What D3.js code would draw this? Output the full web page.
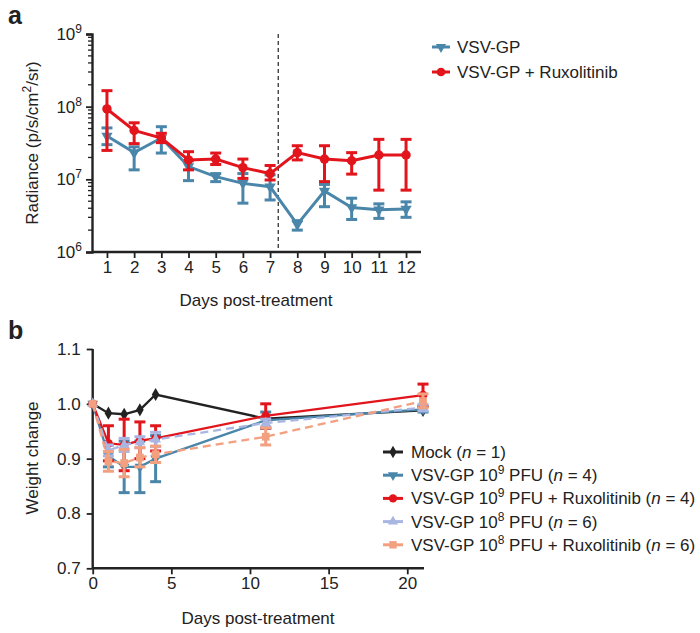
<!DOCTYPE html>
<html><head><meta charset="utf-8">
<script src="https://cdn.jsdelivr.net/npm/d3@7"></script>
<style>
body{margin:0;background:#fff;}
svg text{font-family:"Liberation Sans",Arial,Helvetica,sans-serif;fill:#222;}
</style></head>
<body><svg id="c" width="700" height="633"></svg>
<script>
// ---------- Panel a data ----------
const daysA = [1,2,3,4,5,6,7,8,9,10,11,12];
const vsvMean = [3.95e7,2.33e7,3.7e7,1.5e7,1.09e7,8.8e6,7.9e6,2.4e6,6.9e6,4.1e6,3.8e6,3.9e6];
const vsvHi   = [5.1e7,2.8e7,5.3e7,1.8e7,1.2e7,1.2e7,1.15e7,2.7e6,8.5e6,5.5e6,4.6e6,4.9e6];
const vsvLo   = [3.0e7,1.35e7,2.3e7,9.6e6,9.3e6,4.7e6,5.2e6,2.0e6,4.2e6,2.8e6,2.9e6,3.0e6];
const ruxMean = [9.3e7,4.7e7,3.7e7,1.85e7,1.9e7,1.45e7,1.2e7,2.33e7,1.9e7,1.8e7,2.16e7,2.16e7];
const ruxHi   = [1.66e8,6.0e7,4.3e7,2.4e7,2.3e7,1.9e7,1.55e7,2.9e7,2.9e7,2.33e7,3.55e7,3.55e7];
const ruxLo   = [2.5e7,3.1e7,3.2e7,1.35e7,1.6e7,1.03e7,9.8e6,1.85e7,9.3e6,1.18e7,7.1e6,7.1e6];
const logTicks = [1e6,1e7,1e8,1e9];
const treatDay = 7.3;

// ---------- Panel b data ----------
const daysB = [0,1,2,3,4,11,21];
const mockMean = [1.0,0.983,0.981,0.989,1.017,0.973,0.988];
const v9Mean = [1.0,0.905,0.885,0.885,0.900,0.970,0.990];
const v9Hi   = [1.0,0.925,0.932,0.932,0.942,0.985,0.995];
const v9Lo   = [1.0,0.885,0.838,0.838,0.858,0.955,0.985];
const r9Mean = [1.0,0.928,0.925,0.933,0.937,0.978,1.016];
const r9Hi   = [1.0,0.960,0.972,0.967,0.960,1.000,1.036];
const r9Lo   = [1.0,0.896,0.878,0.900,0.914,0.956,0.996];
const v8Mean = [1.0,0.915,0.925,0.930,0.935,0.965,0.993];
const v8Hi   = [1.0,0.925,0.937,0.940,0.948,0.972,0.999];
const v8Lo   = [1.0,0.905,0.913,0.920,0.922,0.958,0.987];
const r8Mean = [1.0,0.895,0.892,0.902,0.908,0.940,1.005];
const r8Hi   = [1.0,0.913,0.917,0.920,0.923,0.956,1.018];
const r8Lo   = [1.0,0.877,0.867,0.885,0.893,0.925,0.993];
const bTicksY = [0.7,0.8,0.9,1.0,1.1];
const bTicksX = [0,5,10,15,20];

const BLUE="#4a86a9", RED="#e2141c", LBLUE="#a9b6e2", SALMON="#f3a081", BLACK="#222";
const svg = d3.select("#c");
const FS = 17;

// ================= Panel a =================
const xa = d3.scaleLinear().domain([0.45,12.55]).range([92,421]);
const ya = d3.scaleLog().domain([1e6,1e9]).range([252,34]);
const ga = svg.append("g");

// minor ticks
const minor = [];
for (let e=6;e<9;e++) for (let m=2;m<=9;m++) minor.push(m*Math.pow(10,e));
ga.selectAll(".mn").data(minor).join("line")
  .attr("x1",92).attr("x2",88).attr("y1",d=>ya(d)).attr("y2",d=>ya(d))
  .attr("stroke",BLACK).attr("stroke-width",1.3);
const yAxA = ga.append("g").attr("transform","translate(92,0)")
  .call(d3.axisLeft(ya).tickValues(logTicks).tickSize(6).tickFormat(""));
yAxA.select(".domain").attr("stroke",BLACK).attr("stroke-width",2.4);
yAxA.selectAll(".tick line").attr("stroke",BLACK).attr("stroke-width",1.8);
ga.selectAll(".ylab").data(logTicks).join("text")
  .attr("x",82).attr("y",d=>ya(d)+6).attr("text-anchor","end").attr("font-size",FS)
  .each(function(d){
    const t=d3.select(this);
    t.append("tspan").text("10");
    t.append("tspan").attr("dy",-7).attr("font-size",12).text(Math.round(Math.log10(d)));
  });
const xAxA = ga.append("g").attr("transform","translate(0,252)")
  .call(d3.axisBottom(xa).tickValues(daysA).tickSize(6).tickPadding(3).tickFormat(d3.format("d")));
xAxA.select(".domain").attr("stroke",BLACK).attr("stroke-width",2.4).attr("d","M92,0H421");
xAxA.selectAll(".tick line").attr("stroke",BLACK).attr("stroke-width",1.8);
xAxA.selectAll(".tick text").attr("font-size",FS).attr("fill","#222");
ga.append("text").attr("x",256).attr("y",306).attr("text-anchor","middle").attr("font-size",FS).text("Days post-treatment");
const yt = ga.append("text").attr("transform","translate(38,143) rotate(-90)").attr("text-anchor","middle").attr("font-size",FS);
yt.append("tspan").text("Radiance (p/s/cm");
yt.append("tspan").attr("dy",-7).attr("font-size",12).text("2");
yt.append("tspan").attr("dy",7).text("/sr)");
ga.append("line").attr("x1",xa(treatDay)).attr("x2",xa(treatDay)).attr("y1",34).attr("y2",252)
  .attr("stroke","#333").attr("stroke-width",1.3).attr("stroke-dasharray","4,3");

function seriesA(mean,hi,lo,color,marker){
  const g = ga.append("g");
  const idx = d3.range(mean.length);
  g.selectAll(".eb").data(idx).join("line")
    .attr("x1",i=>xa(daysA[i])).attr("x2",i=>xa(daysA[i]))
    .attr("y1",i=>ya(hi[i])).attr("y2",i=>ya(lo[i])).attr("stroke",color).attr("stroke-width",3);
  [hi,lo].forEach(arr=>{
    g.selectAll(null).data(idx).join("line")
      .attr("x1",i=>xa(daysA[i])-5.5).attr("x2",i=>xa(daysA[i])+5.5)
      .attr("y1",i=>ya(arr[i])).attr("y2",i=>ya(arr[i])).attr("stroke",color).attr("stroke-width",3);
  });
  g.append("path").datum(idx)
    .attr("d",d3.line().x(i=>xa(daysA[i])).y(i=>ya(mean[i])))
    .attr("fill","none").attr("stroke",color).attr("stroke-width",3);
  g.selectAll(".mk").data(idx).join("path")
    .attr("transform",i=>`translate(${xa(daysA[i])},${ya(mean[i])})${marker==="tri"?" rotate(180)":""}`)
    .attr("d",d3.symbol().type(marker==="tri"?d3.symbolTriangle:d3.symbolCircle).size(marker==="tri"?55:70))
    .attr("fill",color);
}
seriesA(vsvMean,vsvHi,vsvLo,BLUE,"tri");
seriesA(ruxMean,ruxHi,ruxLo,RED,"circle");

// legend a
const legA = [{t:"VSV-GP",c:BLUE,m:"tri"},{t:"VSV-GP + Ruxolitinib",c:RED,m:"circle"}];
legA.forEach((d,i)=>{
  const y = 47 + i*25;
  ga.append("line").attr("x1",432).attr("x2",450).attr("y1",y).attr("y2",y).attr("stroke",d.c).attr("stroke-width",3);
  ga.append("path").attr("transform",`translate(441,${y})${d.m==="tri"?" rotate(180)":""}`)
    .attr("d",d3.symbol().type(d.m==="tri"?d3.symbolTriangle:d3.symbolCircle).size(d.m==="tri"?45:60)).attr("fill",d.c);
  ga.append("text").attr("x",457).attr("y",y+6).attr("font-size",FS).text(d.t);
});
svg.append("text").attr("x",8).attr("y",24).attr("font-size",25).attr("font-weight","bold").text("a");

// ================= Panel b =================
const xb = d3.scaleLinear().domain([0,21]).range([92.7,423]);
const yb = d3.scaleLinear().domain([0.7,1.1]).range([568.3,349]);
const gb = svg.append("g");
const yAxB = gb.append("g").attr("transform","translate(92.7,0)")
  .call(d3.axisLeft(yb).tickValues(bTicksY).tickSize(6).tickPadding(6).tickFormat(d3.format(".1f")));
yAxB.select(".domain").attr("stroke",BLACK).attr("stroke-width",2.4).attr("d","M0,349V568.3");
yAxB.selectAll(".tick line").attr("stroke",BLACK).attr("stroke-width",1.8);
yAxB.selectAll(".tick text").attr("font-size",FS).attr("fill","#222");
const xAxB = gb.append("g").attr("transform","translate(0,568.3)")
  .call(d3.axisBottom(xb).tickValues(bTicksX).tickSize(6).tickPadding(3).tickFormat(d3.format("d")));
xAxB.select(".domain").attr("stroke",BLACK).attr("stroke-width",2.4).attr("d","M92.7,0H424");
xAxB.selectAll(".tick line").attr("stroke",BLACK).attr("stroke-width",1.8);
xAxB.selectAll(".tick text").attr("font-size",FS).attr("fill","#222");
gb.append("text").attr("x",258).attr("y",624).attr("text-anchor","middle").attr("font-size",FS).text("Days post-treatment");
gb.append("text").attr("transform","translate(38,458) rotate(-90)").attr("text-anchor","middle").attr("font-size",FS).text("Weight change");
svg.append("text").attr("x",8).attr("y",339).attr("font-size",25).attr("font-weight","bold").text("b");

const symType = {diamond:d3.symbolDiamond, tri:d3.symbolTriangle, circle:d3.symbolCircle, utri:d3.symbolTriangle, square:d3.symbolSquare};
const symSize = {diamond:50, tri:50, circle:60, utri:50, square:60};
function markerTf(m){ return m==="tri"?" rotate(180)":""; }

function seriesB(mean,hi,lo,color,marker,dash){
  const g = gb.append("g");
  const idx = d3.range(mean.length);
  if (hi){
    const ei = idx.filter(i=>hi[i]!==lo[i]);
    g.selectAll(".eb").data(ei).join("line")
      .attr("x1",i=>xb(daysB[i])).attr("x2",i=>xb(daysB[i]))
      .attr("y1",i=>yb(hi[i])).attr("y2",i=>yb(lo[i])).attr("stroke",color).attr("stroke-width",3);
    [hi,lo].forEach(arr=>{
      g.selectAll(null).data(ei).join("line")
        .attr("x1",i=>xb(daysB[i])-5.5).attr("x2",i=>xb(daysB[i])+5.5)
        .attr("y1",i=>yb(arr[i])).attr("y2",i=>yb(arr[i])).attr("stroke",color).attr("stroke-width",3);
    });
  }
  g.append("path").datum(idx)
    .attr("d",d3.line().x(i=>xb(daysB[i])).y(i=>yb(mean[i])))
    .attr("fill","none").attr("stroke",color).attr("stroke-width",2.3)
    .attr("stroke-dasharray",dash?"8,5":null);
  g.selectAll(".mk").data(idx).join("path")
    .attr("transform",i=>`translate(${xb(daysB[i])},${yb(mean[i])})${markerTf(marker)}`)
    .attr("d",d3.symbol().type(symType[marker]).size(symSize[marker]))
    .attr("fill",color);
}
seriesB(mockMean,null,null,BLACK,"diamond",false);
seriesB(v9Mean,v9Hi,v9Lo,BLUE,"tri",false);
seriesB(r9Mean,r9Hi,r9Lo,RED,"circle",false);
seriesB(v8Mean,v8Hi,v8Lo,LBLUE,"utri",true);
seriesB(r8Mean,r8Hi,r8Lo,SALMON,"square",true);

// legend b
const legB = [
  {pre:"Mock (",n:"1",c:BLACK,m:"diamond"},
  {pre:"VSV-GP 10",sup:"9",mid:" PFU (",n:"4",c:BLUE,m:"tri"},
  {pre:"VSV-GP 10",sup:"9",mid:" PFU + Ruxolitinib (",n:"4",c:RED,m:"circle"},
  {pre:"VSV-GP 10",sup:"8",mid:" PFU (",n:"6",c:LBLUE,m:"utri"},
  {pre:"VSV-GP 10",sup:"8",mid:" PFU + Ruxolitinib (",n:"6",c:SALMON,m:"square"}
];
legB.forEach((d,i)=>{
  const y = 452 + i*23.2;
  gb.append("line").attr("x1",383).attr("x2",403).attr("y1",y).attr("y2",y).attr("stroke",d.c).attr("stroke-width",3);
  gb.append("path").attr("transform",`translate(393,${y})${markerTf(d.m)}`)
    .attr("d",d3.symbol().type(symType[d.m]).size(symSize[d.m]-5)).attr("fill",d.c);
  const t = gb.append("text").attr("x",411).attr("y",y+6).attr("font-size",FS);
  t.append("tspan").text(d.pre);
  if (d.sup){
    t.append("tspan").attr("dy",-7).attr("font-size",12).text(d.sup);
    t.append("tspan").attr("dy",7).text(d.mid);
  }
  t.append("tspan").attr("font-style","italic").text("n");
  t.append("tspan").text(" = " + d.n + ")");
});
</script></body></html>
